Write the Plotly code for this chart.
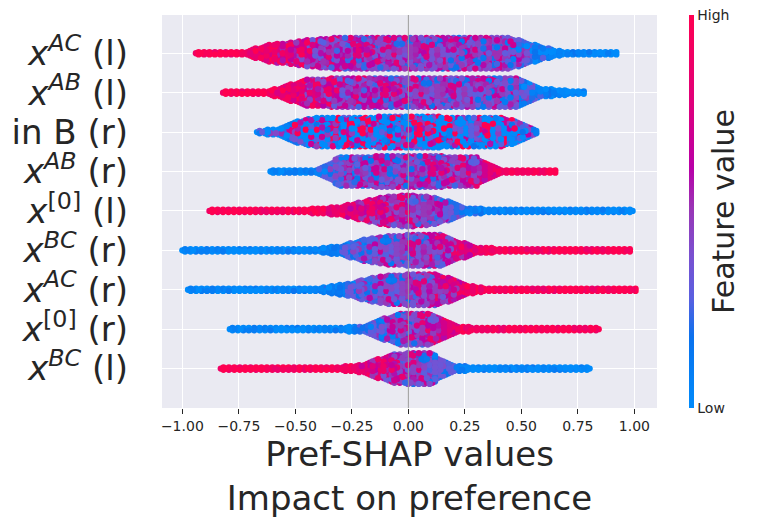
import numpy as np
import plotly.graph_objects as go

# feature rows, top to bottom
labels = [
    "<i>x</i><sup><i>AC</i></sup> (l)",
    "<i>x</i><sup><i>AB</i></sup> (l)",
    "in B (r)",
    "<i>x</i><sup><i>AB</i></sup> (r)",
    "<i>x</i><sup>[0]</sup> (l)",
    "<i>x</i><sup><i>BC</i></sup> (r)",
    "<i>x</i><sup><i>AC</i></sup> (r)",
    "<i>x</i><sup>[0]</sup> (r)",
    "<i>x</i><sup><i>BC</i></sup> (l)",
]

# SHAP value breakpoints of each row's swarm
shap_pts = [
    [-0.94, -0.72, -0.62, -0.45, -0.35, 0.00, 0.45, 0.52, 0.60, 0.70, 0.93],
    [-0.82, -0.62, -0.52, -0.45, -0.30, 0.00, 0.48, 0.53, 0.60, 0.78],
    [-0.67, -0.58, -0.50, -0.42, 0.00, 0.42, 0.50, 0.57],
    [-0.61, -0.42, -0.36, -0.30, 0.00, 0.30, 0.36, 0.42, 0.66],
    [-0.88, -0.45, -0.30, -0.20, -0.10, 0.00, 0.10, 0.18, 0.26, 0.35, 1.00],
    [-1.00, -0.40, -0.30, -0.20, -0.10, 0.05, 0.15, 0.22, 0.30, 0.40, 0.98],
    [-0.975, -0.40, -0.28, -0.18, -0.08, 0.03, 0.12, 0.20, 0.27, 0.36, 1.01],
    [-0.79, -0.30, -0.20, -0.12, -0.05, 0.03, 0.10, 0.16, 0.22, 0.30, 0.85],
    [-0.83, -0.30, -0.22, -0.15, -0.08, 0.02, 0.10, 0.15, 0.20, 0.28, 0.81],
]
# half thickness of the swarm at those breakpoints (fraction of row spacing)
density = [
    [0.03, 0.05, 0.21, 0.34, 0.39, 0.40, 0.39, 0.29, 0.14, 0.05, 0.03],
    [0.03, 0.05, 0.21, 0.34, 0.37, 0.39, 0.36, 0.27, 0.11, 0.03],
    [0.03, 0.09, 0.26, 0.37, 0.40, 0.37, 0.24, 0.05],
    [0.03, 0.05, 0.19, 0.37, 0.41, 0.37, 0.19, 0.06, 0.03],
    [0.03, 0.05, 0.11, 0.24, 0.36, 0.41, 0.36, 0.24, 0.09, 0.05, 0.03],
    [0.03, 0.05, 0.12, 0.27, 0.37, 0.41, 0.39, 0.24, 0.09, 0.05, 0.03],
    [0.03, 0.05, 0.14, 0.29, 0.37, 0.41, 0.39, 0.27, 0.11, 0.05, 0.03],
    [0.03, 0.05, 0.09, 0.24, 0.39, 0.42, 0.40, 0.24, 0.09, 0.05, 0.03],
    [0.03, 0.05, 0.09, 0.21, 0.35, 0.42, 0.39, 0.24, 0.09, 0.05, 0.03],
]
# mean feature value (0 = low, 1 = high) at those breakpoints
feat_mean = [
    [1.00, 0.95, 0.85, 0.65, 0.55, 0.50, 0.42, 0.25, 0.10, 0.05, 0.00],
    [1.00, 0.95, 0.85, 0.70, 0.58, 0.50, 0.40, 0.20, 0.05, 0.00],
    [0.00, 0.05, 0.20, 0.28, 0.28, 0.28, 0.20, 0.00],
    [0.00, 0.05, 0.25, 0.38, 0.47, 0.58, 0.78, 0.95, 1.00],
    [1.00, 0.95, 0.85, 0.70, 0.62, 0.55, 0.47, 0.35, 0.15, 0.05, 0.00],
    [0.00, 0.05, 0.15, 0.32, 0.42, 0.48, 0.57, 0.70, 0.85, 0.95, 1.00],
    [0.00, 0.05, 0.15, 0.32, 0.42, 0.48, 0.57, 0.70, 0.85, 0.95, 1.00],
    [0.00, 0.05, 0.20, 0.32, 0.42, 0.50, 0.60, 0.72, 0.85, 0.95, 1.00],
    [1.00, 0.95, 0.85, 0.70, 0.60, 0.50, 0.40, 0.30, 0.15, 0.05, 0.00],
]
# how mixed the colours are in each row's core
feat_spread = [0.3, 0.3, 1.0, 0.3, 0.28, 0.3, 0.3, 0.3, 0.3]
mix = [-1.0, 0.3, -0.3, 1.0, -0.1, 0.2, 0.8, -0.5, 0.0, -0.8, 0.1, 0.5,
       -0.2, 0.9, -0.4, 0.3, -0.6, 0.0, 0.4, -0.3, 1.0, -1.0, 0.2]

shap_cmap = [
    [0.00, "#008bfb"], [0.18, "#0a72ee"], [0.28, "#5a5fe0"], [0.39, "#7a50d0"],
    [0.51, "#9a35b5"], [0.61, "#b800a8"], [0.78, "#e0007a"], [1.00, "#ff0051"],
]

dx = 0.012
dy = 0.06
px, py, pc = [], [], []
n_rows = len(labels)
for k in range(n_rows):
    yc = n_rows - 1 - k
    xs = np.arange(shap_pts[k][0], shap_pts[k][-1] + 1e-9, dx)
    rx, ry, rc, key = [], [], [], []
    for i, x in enumerate(xs):
        h = np.interp(x, shap_pts[k], density[k])
        m = np.interp(x, shap_pts[k], feat_mean[k])
        s = feat_spread[k] * (0.3 + 0.7 * min(1.0, h / 0.35))
        if h < dy / 2:
            offs = [(0, 0.0)]
        else:
            shift = dy / 2 if i % 2 else 0.0
            n = int(h / dy) + 1
            offs = [(j, j * dy + shift) for j in range(-n, n + 1)
                    if abs(j * dy + shift) <= h]
        for j, off in offs:
            t = (i * i * 0.5698403 + j * 0.7548777 + i * j * 0.1234567) % 1.0
            rx.append(x)
            ry.append(yc + off)
            rc.append(float(np.clip(m + s * mix[int(t * len(mix))], 0, 1)))
            key.append((i * i * 0.3819660 + j * j * 0.2360680 + i * 0.71) % 1.0)
    # interleave the drawing order so no column sits on top of its neighbours
    order = np.argsort(key, kind="stable")
    px += [rx[o] for o in order]
    py += [ry[o] for o in order]
    pc += [rc[o] for o in order]

fig = go.Figure(go.Scatter(
    x=px, y=py, mode="markers",
    marker=dict(
        size=6.3, color=pc, cmin=0, cmax=1, colorscale=shap_cmap,
        line=dict(width=0),
        showscale=True,
        colorbar=dict(
            x=1.0646, xanchor="left", xpad=0, y=0.5, yanchor="middle", ypad=0,
            len=1, lenmode="fraction", thickness=5, outlinewidth=0,
            tickvals=[0, 1], ticktext=["Low", "High"], ticks="",
            tickfont=dict(size=14, color="#262626"),
            title=dict(text="Feature value", side="right",
                       font=dict(size=30, color="#262626")),
        ),
    ),
    hoverinfo="skip", showlegend=False,
))

# zero reference line, drawn over the dots
fig.add_vline(x=0, line=dict(color="#999999", width=1), layer="above")

fig.update_layout(
    width=774, height=525,
    margin=dict(l=162, r=117, t=15, b=117),
    paper_bgcolor="white", plot_bgcolor="#eaeaf2",
    font=dict(family="DejaVu Sans", color="#262626"),
)
fig.update_xaxes(
    range=[-1.09, 1.10], tickvals=[-1, -0.75, -0.5, -0.25, 0, 0.25, 0.5, 0.75, 1],
    tickformat=".2f", ticks="outside", ticklen=5, tickcolor="#262626",
    tickfont=dict(size=14), showgrid=True, gridcolor="white", gridwidth=1.2,
    zeroline=False, automargin=False,
    title=dict(text="Pref-SHAP values<br>Impact on preference",
               font=dict(size=34), standoff=5),
)
fig.update_yaxes(
    range=[-1.0, 8.97], tickvals=list(range(n_rows)), ticktext=labels[::-1],
    tickfont=dict(size=34), showgrid=True, gridcolor="white", gridwidth=1.2,
    zeroline=False, ticks="", ticklabelstandoff=33, automargin=False,
)

fig.write_html("out.html", config={"displayModeBar": False},
               post_script="document.body.style.margin='0';")
